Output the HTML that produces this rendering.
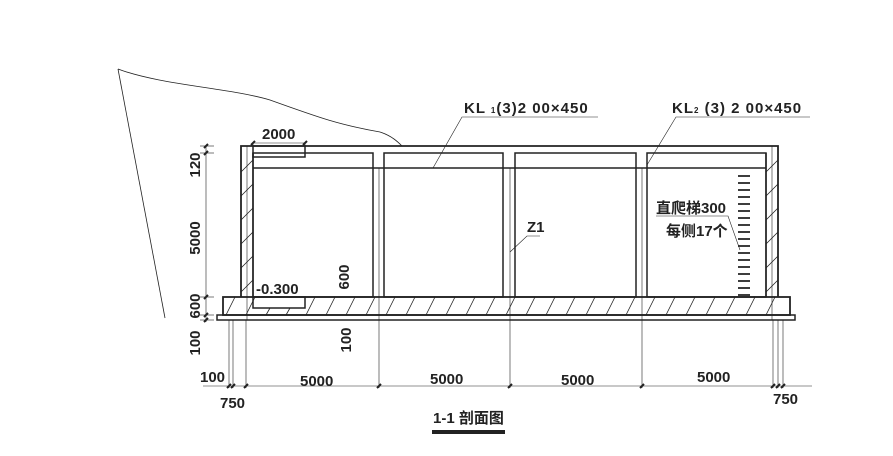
<!DOCTYPE html>
<html><head><meta charset="utf-8"><style>
html,body{margin:0;padding:0;background:#fff;}
svg text{font-family:"Liberation Sans","Noto Sans CJK SC",sans-serif;font-weight:bold;fill:#222;}
</style></head><body>
<svg width="893" height="451" viewBox="0 0 893 451" xmlns="http://www.w3.org/2000/svg">
<g fill="none" stroke="#222">
<path d="M118,69 C160,85 230,88 270,100 C320,118 340,125 380,132 C392,136 398,142 402,146" stroke-width="0.8"/>
<path d="M118,69 L165,318" stroke-width="0.8"/>
<path d="M241,297 L241,146 L778,146 L778,297" stroke-width="1.8"/>
<line x1="253" y1="153" x2="253" y2="297" stroke-width="1.5"/>
<line x1="766" y1="153" x2="766" y2="297" stroke-width="1.5"/>
<line x1="247" y1="146" x2="247" y2="320" stroke-width="0.6"/>
<line x1="772" y1="146" x2="772" y2="320" stroke-width="0.6"/>
<rect x="253" y="153" width="120" height="144" stroke-width="1.5"/>
<rect x="384" y="153" width="119" height="144" stroke-width="1.5"/>
<rect x="515" y="153" width="121" height="144" stroke-width="1.5"/>
<rect x="647" y="153" width="119" height="144" stroke-width="1.5"/>
<line x1="253" y1="168" x2="766" y2="168" stroke-width="1.5"/>
<rect x="253" y="146" width="52" height="11" stroke-width="1.5"/>
<rect x="223" y="297" width="567" height="18" stroke-width="1.8"/>
<rect x="217" y="315" width="578" height="5" stroke-width="1.5"/>
<rect x="253" y="297" width="52" height="11" stroke-width="1.5"/>
<g stroke-width="0.6">
<line x1="379" y1="168" x2="379" y2="388"/>
<line x1="510" y1="168" x2="510" y2="388"/>
<line x1="642" y1="168" x2="642" y2="388"/>
<line x1="229" y1="320" x2="229" y2="388"/>
<line x1="233" y1="320" x2="233" y2="388"/>
<line x1="246" y1="320" x2="246" y2="388"/>
<line x1="773" y1="320" x2="773" y2="388"/>
<line x1="778" y1="320" x2="778" y2="388"/>
<line x1="783" y1="320" x2="783" y2="388"/>
<line x1="203" y1="386" x2="812" y2="386"/>
<line x1="206" y1="146" x2="206" y2="322"/>
<line x1="200" y1="146" x2="214" y2="146"/>
<line x1="200" y1="153" x2="214" y2="153"/>
<line x1="200" y1="297" x2="214" y2="297"/>
<line x1="200" y1="315" x2="214" y2="315"/>
<line x1="200" y1="320" x2="214" y2="320"/>
<line x1="253" y1="143" x2="305" y2="143"/>
<line x1="253" y1="143" x2="253" y2="146"/><line x1="305" y1="143" x2="305" y2="146"/>
<polyline points="433,168 462,117 598,117"/>
<polyline points="647,165 676,117 810,117"/>
<polyline points="510,252 527,236 540,236"/>
<polyline points="656,216 728,216 740,250"/>
</g>
<g stroke-width="2">
<path d="M227,388 l4,-4 M231,388 l4,-4 M244,388 l4,-4 M377,388 l4,-4 M508,388 l4,-4 M640,388 l4,-4 M771,388 l4,-4 M776,388 l4,-4 M781,388 l4,-4"/>
<path d="M204,148 l4,-4 M204,155 l4,-4 M204,299 l4,-4 M204,317 l4,-4 M204,322 l4,-4 M251,145 l4,-4 M303,145 l4,-4"/>
</g>
<g stroke-width="0.8">
<path d="M241,172 l12,-12 M241,196 l12,-12 M241,220 l12,-12 M241,244 l12,-12 M241,268 l12,-12 M241,292 l12,-12"/>
<path d="M766,172 l12,-12 M766,196 l12,-12 M766,220 l12,-12 M766,244 l12,-12 M766,268 l12,-12 M766,292 l12,-12"/>
<path d="M226,315 l9,-18 M246,315 l9,-18 M266,315 l4,-7 M286,315 l4,-7 M306,315 l9,-18 M326,315 l9,-18 M346,315 l9,-18 M366,315 l9,-18 M386,315 l9,-18 M406,315 l9,-18 M426,315 l9,-18 M446,315 l9,-18 M466,315 l9,-18 M486,315 l9,-18 M506,315 l9,-18 M526,315 l9,-18 M546,315 l9,-18 M566,315 l9,-18 M586,315 l9,-18 M606,315 l9,-18 M626,315 l9,-18 M646,315 l9,-18 M666,315 l9,-18 M686,315 l9,-18 M706,315 l9,-18 M726,315 l9,-18 M746,315 l9,-18 M766,315 l9,-18"/>
</g>
<g stroke-width="1.8">
<path d="M738,176h12M738,183h12M738,190h12M738,197h12M738,204h12M738,211h12M738,218h12M738,225h12M738,232h12M738,239h12M738,246h12M738,253h12M738,260h12M738,267h12M738,274h12M738,281h12M738,288h12M738,295h12"/>
</g>
<line x1="432" y1="432" x2="505" y2="432" stroke-width="4"/>
</g>
<g font-size="15">
<text x="262" y="139">2000</text>
<text x="464" y="113" letter-spacing="1">KL <tspan font-size="8">1</tspan>(3)2 00×450</text>
<text x="672" y="113" letter-spacing="1">KL<tspan font-size="8">2</tspan> (3) 2 00×450</text>
<text x="527" y="232">Z1</text>
<text x="656" y="213">直爬梯300</text>
<text x="666" y="236">每侧17个</text>
<text x="256" y="294">-0.300</text>
<text x="200" y="382">100</text>
<text x="220" y="408">750</text>
<text x="300" y="386">5000</text>
<text x="430" y="384">5000</text>
<text x="561" y="385">5000</text>
<text x="697" y="382">5000</text>
<text x="773" y="404">750</text>
<text x="433" y="423">1-1 剖面图</text>
<text transform="translate(200,165) rotate(-90)" text-anchor="middle">120</text>
<text transform="translate(200,238) rotate(-90)" text-anchor="middle">5000</text>
<text transform="translate(200,306) rotate(-90)" text-anchor="middle">600</text>
<text transform="translate(200,343) rotate(-90)" text-anchor="middle">100</text>
<text transform="translate(349,277) rotate(-90)" text-anchor="middle">600</text>
<text transform="translate(351,340) rotate(-90)" text-anchor="middle">100</text>
</g>
</svg>
</body></html>
